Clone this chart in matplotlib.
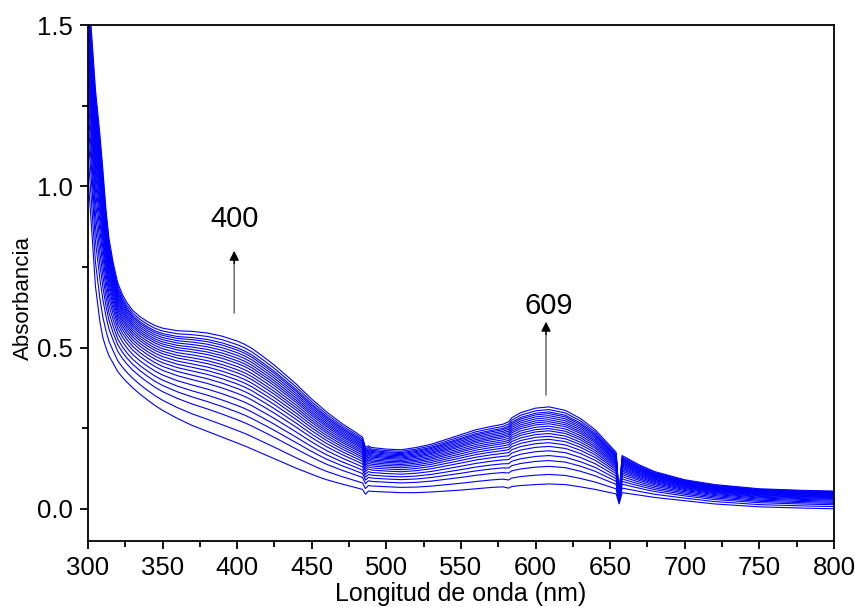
import numpy as np
import matplotlib
matplotlib.use("Agg")
import matplotlib.pyplot as plt

plt.rcParams['font.family'] = ['Liberation Sans', 'DejaVu Sans']

# wavelength anchors (nm) with the lowest and highest spectrum
wavelength = [300, 302, 305, 308, 310, 312, 314, 317, 320, 323, 326, 330, 335, 340, 345,
              350, 360, 370, 380, 390, 400, 405, 410, 415, 420, 425, 430, 435, 440, 445,
              450, 455, 460, 470, 480, 484, 486, 488, 490, 500, 510, 520, 530, 540, 550,
              560, 570, 578, 582, 584, 590, 600, 609, 620, 630, 640, 650, 654, 656, 658,
              670, 680, 700, 720, 750, 780, 800]
abs_low = [1.03, 0.90, 0.69, 0.58, 0.53, 0.50, 0.475, 0.45, 0.425, 0.408, 0.393, 0.375,
           0.355, 0.337, 0.32, 0.305, 0.28, 0.258, 0.24, 0.222, 0.204, 0.195, 0.185, 0.175,
           0.165, 0.155, 0.145, 0.135, 0.125, 0.116, 0.107, 0.098, 0.09, 0.077, 0.065,
           0.06, 0.045, 0.055, 0.054, 0.052, 0.05, 0.05, 0.052, 0.055, 0.058, 0.062, 0.066,
           0.068, 0.064, 0.069, 0.072, 0.075, 0.077, 0.075, 0.068, 0.06, 0.05, 0.046,
           0.015, 0.05, 0.042, 0.035, 0.025, 0.015, 0.006, 0.002, 0.0]
abs_high = [1.62, 1.50, 1.30, 1.16, 1.05, 0.93, 0.84, 0.76, 0.70, 0.665, 0.64, 0.615,
            0.595, 0.58, 0.568, 0.56, 0.552, 0.55, 0.545, 0.535, 0.52, 0.51, 0.497, 0.48,
            0.463, 0.445, 0.425, 0.405, 0.385, 0.362, 0.34, 0.32, 0.30, 0.265, 0.235,
            0.222, 0.19, 0.195, 0.19, 0.185, 0.183, 0.19, 0.20, 0.215, 0.23, 0.245, 0.255,
            0.262, 0.27, 0.282, 0.298, 0.312, 0.316, 0.305, 0.28, 0.245, 0.195, 0.175,
            0.04, 0.165, 0.135, 0.115, 0.09, 0.075, 0.062, 0.057, 0.055]
# relative position of each recorded spectrum between the lowest and highest one
curve_frac = [0, 0.123, 0.228, 0.303, 0.368, 0.430, 0.487, 0.535, 0.579, 0.618, 0.654,
              0.689, 0.719, 0.750, 0.781, 0.807, 0.833, 0.860, 0.886, 0.912, 0.934,
              0.965, 1.0]

wl = np.array(wavelength)
low = np.array(abs_low)
high = np.array(abs_high)

fig = plt.figure(figsize=(8.55, 6.07), dpi=100)
ax = fig.add_axes([0.1029, 0.1087, 0.8725, 0.8501])

for f in curve_frac:
    ax.plot(wl, low + f * (high - low), color='#0000ff', lw=0.8)

ax.set_xlim(300, 800)
ax.set_ylim(-0.1, 1.5)
ax.set_xticks(np.arange(300, 801, 50))
ax.set_xticks(np.arange(325, 800, 50), minor=True)
ax.set_yticks([0.0, 0.5, 1.0, 1.5])
ax.set_yticks([0.25, 0.75, 1.25], minor=True)
ax.set_yticklabels(['0.0', '0.5', '1.0', '1.5'])
ax.tick_params(which='both', direction='out', labelsize=18.5, width=1.3, pad=5)
ax.tick_params(which='major', length=6)
ax.tick_params(which='minor', length=4)
for s in ax.spines.values():
    s.set_linewidth(1.3)

ax.set_xlabel('Longitud de onda (nm)', fontsize=18, labelpad=1)
ax.set_ylabel('Absorbancia', fontsize=16)
ax.yaxis.set_label_coords(-0.072, 0.47)

shaft = dict(arrowstyle='-', color='#777777', lw=1.2, shrinkA=0, shrinkB=0)
head = dict(arrowstyle='-|>', color='black', lw=1.0, mutation_scale=14, shrinkA=0, shrinkB=0)
ax.annotate('', xy=(398, 0.78), xytext=(398, 0.607), arrowprops=shaft)
ax.annotate('', xy=(398, 0.80), xytext=(398, 0.76), arrowprops=head)
ax.text(398, 0.90, '400', fontsize=21, ha='center', va='center')
ax.annotate('', xy=(607, 0.56), xytext=(607, 0.353), arrowprops=shaft)
ax.annotate('', xy=(607, 0.58), xytext=(607, 0.54), arrowprops=head)
ax.text(609, 0.63, '609', fontsize=21, ha='center', va='center')

fig.savefig('out.png', dpi=100)
